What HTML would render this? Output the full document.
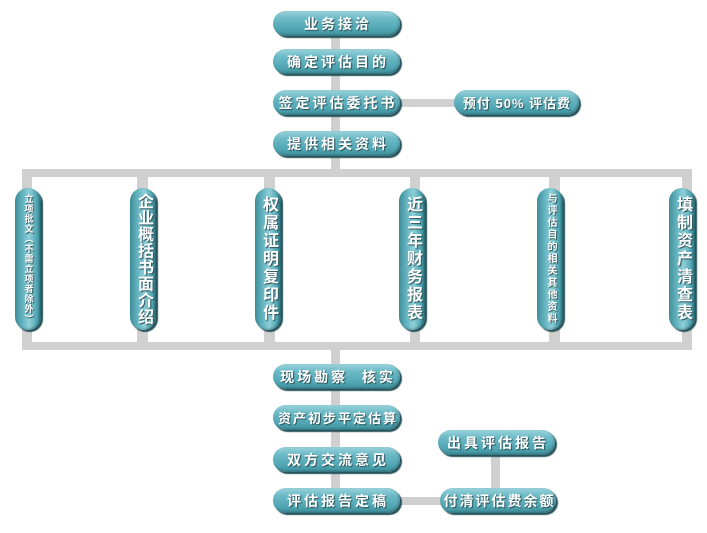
<!DOCTYPE html>
<html><head><meta charset="utf-8"><style>
body{margin:0;width:707px;height:533px;background:#fff;position:relative;overflow:hidden;font-family:"Liberation Sans","Noto Sans CJK SC",sans-serif}
.l{position:absolute;background:#d0d0d0}
.p{position:absolute;box-sizing:border-box;border-radius:14px;background:linear-gradient(180deg,#9bd3dc 0%,#6cbac6 30%,#4fa5b2 75%,#3f8f9b 100%);box-shadow:2px 2px 1px #27535a, inset -1px -1px 2px rgba(0,0,0,.25);color:#fff;font-weight:bold;text-shadow:1px 1px 1px #2a4f55;display:flex;align-items:center;justify-content:center;white-space:nowrap}
.h{height:25px;font-size:14px;letter-spacing:3px;padding-left:3px}
.v{width:26px;height:142px;border-radius:13px;writing-mode:vertical-rl;text-orientation:upright;background:linear-gradient(90deg,#3f8f9b 0%,#6cbac6 35%,#8fcfd8 55%,#4fa5b2 85%,#2f7a85 100%);padding:0;line-height:1}
</style></head><body>
<div class="l" style="left:331px;top:30px;width:9px;height:146px"></div>
<div class="l" style="left:395px;top:99px;width:65px;height:8px"></div>
<div class="l" style="left:22px;top:169px;width:670px;height:8px"></div>
<div class="l" style="left:22px;top:342px;width:670px;height:8px"></div>
<div class="l" style="left:22px;top:169px;width:10px;height:181px"></div>
<div class="l" style="left:137px;top:169px;width:11px;height:181px"></div>
<div class="l" style="left:264px;top:169px;width:11px;height:181px"></div>
<div class="l" style="left:410px;top:169px;width:10px;height:181px"></div>
<div class="l" style="left:549px;top:169px;width:11px;height:181px"></div>
<div class="l" style="left:682px;top:169px;width:10px;height:181px"></div>
<div class="l" style="left:331px;top:342px;width:9px;height:160px"></div>
<div class="l" style="left:395px;top:497px;width:50px;height:8px"></div>
<div class="l" style="left:491px;top:450px;width:9px;height:45px"></div>

<div class="p h" style="left:273px;top:11px;width:127px">业务接洽</div>
<div class="p h" style="left:273px;top:49px;width:127px">确定评估目的</div>
<div class="p h" style="left:273px;top:90px;width:127px">签定评估委托书</div>
<div class="p h" style="left:454px;top:90px;width:125px;font-size:13px;letter-spacing:1px;padding-left:1px">预付 50% 评估费</div>
<div class="p h" style="left:273px;top:131px;width:127px">提供相关资料</div>

<div class="p v" style="left:15px;top:188px;font-size:9px;letter-spacing:1px">立项批文（不需立项者除外）</div>
<div class="p v" style="left:130px;top:188px;font-size:16px;letter-spacing:0.5px">企业概括书面介绍</div>
<div class="p v" style="left:255px;top:188px;font-size:16px;letter-spacing:2px">权属证明复印件</div>
<div class="p v" style="left:399px;top:188px;font-size:16px;letter-spacing:2px">近三年财务报表</div>
<div class="p v" style="left:537px;top:188px;font-size:10px;letter-spacing:2px">与评估目的相关其他资料</div>
<div class="p v" style="left:669px;top:188px;font-size:16px;letter-spacing:2px">填制资产清查表</div>

<div class="p h" style="left:273px;top:364px;width:127px">现场勘察&nbsp; 核实</div>
<div class="p h" style="left:273px;top:405px;width:127px;font-size:13px;letter-spacing:2px">资产初步平定估算</div>
<div class="p h" style="left:273px;top:447px;width:127px">双方交流意见</div>
<div class="p h" style="left:273px;top:488px;width:127px">评估报告定稿</div>
<div class="p h" style="left:438px;top:430px;width:117px">出具评估报告</div>
<div class="p h" style="left:440px;top:488px;width:116px;letter-spacing:2px">付清评估费余额</div>
</body></html>
